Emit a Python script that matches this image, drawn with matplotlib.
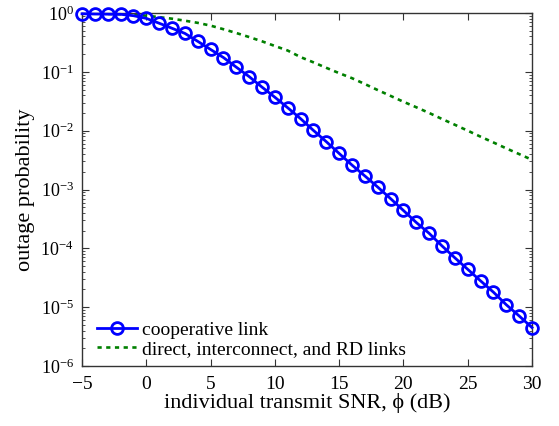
import numpy as np
import matplotlib
matplotlib.use('Agg')
import matplotlib.pyplot as plt
from matplotlib.ticker import LogLocator, NullFormatter, FixedLocator

# SNR in dB
snr_db = list(range(-5, 31))

# cooperative link outage probability
coop = [0.97, 0.96, 0.955, 0.95, 0.90, 0.81, 0.67, 0.55, 0.45, 0.33,
        0.24, 0.175, 0.12, 0.083, 0.055, 0.037, 0.0245, 0.016, 0.0101, 6.5e-3,
        4.1e-3, 2.6e-3, 1.7e-3, 1.1e-3, 7.0e-4, 4.4e-4, 2.75e-4, 1.8e-4, 1.1e-4, 6.9e-5,
        4.4e-5, 2.8e-5, 1.8e-5, 1.1e-5, 7.1e-6, 4.5e-6]

# direct / interconnect / RD links
direct = [0.98, 0.975, 0.966, 0.955, 0.933, 0.90, 0.85, 0.80, 0.74, 0.68,
          0.61, 0.53, 0.457, 0.39, 0.33, 0.275, 0.23, 0.178, 0.145, 0.117,
          0.095, 0.078, 0.062, 0.049, 0.039, 0.031, 0.025, 0.020, 0.0158, 0.0126,
          0.0100, 0.0079, 0.0063, 0.0050, 0.0040, 0.0032]

x_ticks = [-5, 0, 5, 10, 15, 20, 25, 30]
y_exps = [-6, -5, -4, -3, -2, -1, 0]

plt.rcParams['font.family'] = ['Liberation Serif', 'DejaVu Serif']
plt.rcParams['mathtext.fontset'] = 'custom'
plt.rcParams['mathtext.rm'] = 'Liberation Serif'
plt.rcParams['mathtext.it'] = 'Liberation Serif'

fig = plt.figure(figsize=(5.59, 4.26), dpi=100)
ax = fig.add_axes([0.1467, 0.1408, 0.805, 0.8287])

ax.semilogy(snr_db, coop, '-o', color='#0000ff', lw=2.0, ms=8.5,
            mfc='none', mew=2.0, label='cooperative link', clip_on=False, zorder=3)
ax.semilogy(snr_db, direct, color='#008000', lw=1.9, dashes=(1.6, 1.7),
            label='direct, interconnect, and RD links')

ax.set_xlim(-5, 30)
ax.set_ylim(1e-6, 1)
ax.set_xticks(x_ticks)
ax.set_xticklabels(['\u2212%d' % -v if v < 0 else str(v) for v in x_ticks])
ax.set_yticks([10.0 ** e for e in y_exps])
ax.set_yticklabels([r'$\mathregular{10^{%d}}$' % e for e in y_exps])
minor = [m * 10.0 ** e for e in y_exps[:-1] for m in range(2, 10)]
ax.yaxis.set_minor_locator(FixedLocator(minor))
ax.yaxis.set_minor_formatter(NullFormatter())

ax.tick_params(which='both', direction='in', top=True, right=True, color='#333333')
ax.tick_params(axis='x', labelsize=14, pad=7)
ax.tick_params(axis='y', labelsize=13, pad=6)
ax.tick_params(which='major', length=5)
ax.tick_params(which='minor', length=2.5)
for s in ax.spines.values():
    s.set_color('#333333')
    s.set_linewidth(1.0)

ax.set_xlabel('individual transmit SNR, \u03d5 (dB)', fontsize=16, labelpad=0)
ax.set_ylabel('outage probability', fontsize=16, labelpad=4)

ax.legend(loc='lower left', bbox_to_anchor=(0.017, 0.0), frameon=False,
          fontsize=14, handlelength=2.05, handletextpad=0.26,
          labelspacing=0.1, borderaxespad=0)

fig.savefig('out.png', dpi=100)
